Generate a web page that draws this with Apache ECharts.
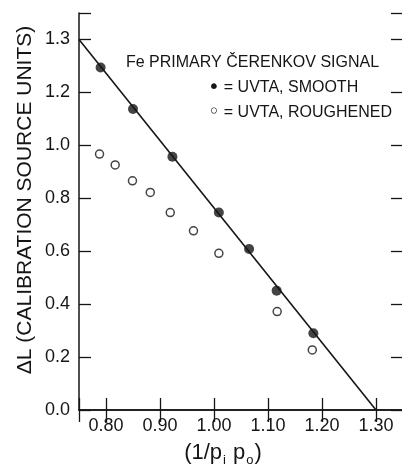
<!DOCTYPE html>
<html>
<head>
<meta charset="utf-8">
<script src="https://cdn.jsdelivr.net/npm/echarts@6/dist/echarts.min.js"></script>
<style>html,body{margin:0;padding:0;background:#fff;}#c{width:402px;height:468px;}</style>
</head>
<body>
<div id="c"></div>
<script>
// ---- data ----
const smoothX = [0.790, 0.850, 0.923, 1.009, 1.065, 1.116, 1.184];
const smoothY = [1.294, 1.137, 0.957, 0.746, 0.608, 0.451, 0.290];
const roughX = [0.788, 0.817, 0.849, 0.882, 0.919, 0.962, 1.009, 1.117, 1.182];
const roughY = [0.967, 0.926, 0.866, 0.822, 0.746, 0.677, 0.592, 0.372, 0.227];
const fitX = [0.75, 1.30];
const fitY = [1.40, 0.00];
const xTickValues = [0.8, 0.9, 1.0, 1.1, 1.2, 1.3];
const xTickText = ['0.80', '0.90', '1.00', '1.10', '1.20', '1.30'];
const yTickValues = [0, 0.2, 0.4, 0.6, 0.8, 1.0, 1.2, 1.4];
const yTickText = ['0.0', '0.2', '0.4', '0.6', '0.8', '1.0', '1.2', '1.3'];
const legendTitle = 'Fe PRIMARY ČERENKOV SIGNAL';
const legendSmooth = '= UVTA, SMOOTH';
const legendRough = '= UVTA, ROUGHENED';
const yTitle = 'ΔL (CALIBRATION SOURCE UNITS)';

const FONT = 'Liberation Sans, DejaVu Sans, sans-serif';
const INK = '#151515';

function zip(a, b) { return a.map((v, i) => [v, b[i]]); }
function labelFor(values, texts, v) {
  for (let i = 0; i < values.length; i++) if (Math.abs(values[i] - v) < 1e-6) return texts[i];
  return '';
}

const axisLineStyle = { lineStyle: { color: INK, width: 1.5 } };
const tickStyle = { inside: true, length: 12, lineStyle: { color: INK, width: 1.3 } };
const legendRich = {
  b: { fontSize: 20, fontFamily: 'DejaVu Sans', fill: INK, verticalAlign: 'middle', lineHeight: 20, padding: [0, 4, 0, 0] },
  t: { fontSize: 16, fontFamily: FONT, fill: INK, verticalAlign: 'middle', lineHeight: 20 }
};

const chart = echarts.init(document.getElementById('c'), null, { renderer: 'canvas' });
chart.setOption({
  backgroundColor: '#fff',
  animation: false,
  grid: { left: 79, top: 13, width: 324, height: 397, outerBoundsMode: 'none', containLabel: false },
  xAxis: [
    { type: 'value', min: 0.75, max: 1.35, splitNumber: 6, position: 'bottom',
      axisLine: axisLineStyle, axisTick: tickStyle, splitLine: { show: false },
      axisLabel: { color: INK, fontFamily: FONT, fontSize: 18, margin: 7,
        formatter: v => labelFor(xTickValues, xTickText, v) } },
    { type: 'value', min: 0.75, max: 1.35, splitNumber: 6, position: 'top',
      axisLine: axisLineStyle, axisTick: tickStyle, splitLine: { show: false },
      axisLabel: { show: false } }
  ],
  yAxis: [
    { type: 'value', min: 0, max: 1.5, interval: 0.2, position: 'left',
      axisLine: axisLineStyle, axisTick: tickStyle, splitLine: { show: false },
      axisLabel: { color: INK, fontFamily: FONT, fontSize: 18, margin: 9,
        formatter: v => labelFor(yTickValues, yTickText, v) } },
    { type: 'value', min: 0, max: 1.5, interval: 0.2, position: 'right',
      axisLine: axisLineStyle, axisTick: tickStyle, splitLine: { show: false },
      axisLabel: { show: false } }
  ],
  series: [
    { type: 'line', data: zip(fitX, fitY), symbol: 'none', silent: true,
      lineStyle: { color: INK, width: 1.6 }, z: 2 },
    { type: 'scatter', data: zip(smoothX, smoothY), symbol: 'circle', symbolSize: 10,
      itemStyle: { color: INK }, z: 3 },
    { type: 'scatter', data: zip(roughX, roughY), symbol: 'circle', symbolSize: 8,
      itemStyle: { color: '#fff', borderColor: INK, borderWidth: 1.5 }, z: 3 }
  ],
  graphic: [
    { type: 'text', left: 126, top: 55, style: { text: legendTitle, fill: INK, font: '16px ' + FONT } },
    { type: 'text', left: 208, top: 78, style: { text: '{b|•}{t|' + legendSmooth + '}', rich: legendRich } },
    { type: 'text', left: 208, top: 103, style: { text: '{b|◦}{t|' + legendRough + '}', rich: legendRich } },
    { type: 'text', x: 25, y: 200, rotation: Math.PI / 2,
      style: { text: yTitle, fill: INK, font: '21px ' + FONT, align: 'center', verticalAlign: 'middle' } },
    { type: 'text', x: 223, y: 453,
      style: {
        text: '{m|(1/p}{s|i}{m| p}{s|o}{m|)}', align: 'center', verticalAlign: 'middle',
        rich: {
          m: { fontSize: 22, fontFamily: FONT, fill: INK, lineHeight: 28, verticalAlign: 'middle' },
          s: { fontSize: 13, fontFamily: FONT, fill: INK, lineHeight: 28, verticalAlign: 'bottom', padding: [0, 1, 0, 1] }
        }
      } }
  ]
});
</script>
</body>
</html>
